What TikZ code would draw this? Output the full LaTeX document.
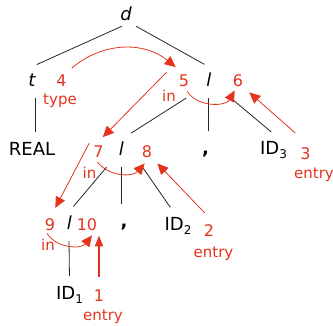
\documentclass[tikz,border=0pt]{standalone}
\usepackage{fontspec}
\setmainfont{DejaVu Sans}
\usetikzlibrary{arrows.meta}

\definecolor{attr}{RGB}{228,52,28}
\newcommand{\idsub}[1]{\raisebox{-4pt}{\fontsize{12}{12}\selectfont #1}}

\tikzset{
  sym/.style={font=\fontsize{18}{18}\selectfont\itshape, text height=13pt, text depth=3pt,
    minimum height=32pt, inner sep=0pt, anchor=base},
  term/.style={sym, font=\fontsize{18}{18}\selectfont},
  num/.style={text=attr, font=\fontsize{16}{16}\selectfont, inner sep=1pt, anchor=base},
  lbl/.style={text=attr, font=\fontsize{15}{15}\selectfont, inner sep=0pt, anchor=base},
  tree/.style={line width=0.8pt, black!85, shorten >=3pt},
  flow/.style={attr, line width=0.8pt, -{Triangle[length=11pt,width=10pt]}},
}

\begin{document}
\begin{tikzpicture}[x=1pt,y=1pt]
\useasboundingbox (0,0) rectangle (333,-326);
% parse tree
\node[sym, minimum height=20pt] (d) at (126,-21) {d};
\node[sym] (t) at (32,-87) {t};
\node[sym] (l1) at (209,-87) {l};
\node[term] (real) at (32,-156) {REAL};
\node[sym] (l2) at (121.5,-156) {l};
\node[term, font=\fontsize{18}{18}\selectfont\bfseries] (c1) at (205.5,-155) {,};
\node[term] (id3) at (273.5,-155) {ID\idsub{3}};
\node[sym] (l3) at (69.5,-230) {l};
\node[term, font=\fontsize{18}{18}\selectfont\bfseries] (c2) at (124,-228) {,};
\node[term] (id2) at (178,-231) {ID\idsub{2}};
\node[term] (id1) at (69.5,-300) {ID\idsub{1}};

\draw[tree] ([xshift=-4pt]d.south) -- ([xshift=2pt]t.north);
\draw[tree] ([xshift=10pt]d.south) -- ([xshift=-2pt]l1.north);
\draw[tree] ([xshift=3pt]t.south) -- ([xshift=3pt]real.north);
\draw[tree] ([xshift=-23pt]l1.south) -- ([xshift=7pt]l2.north);
\draw[tree] ([xshift=-1pt]l1.south) -- ([xshift=2.5pt]c1.north);
\draw[tree] ([xshift=22pt]l1.south) -- (id3.north);
\draw[tree] ([xshift=-15pt]l2.south) -- ([xshift=2pt]l3.north);
\draw[tree] (l2.south) -- ([xshift=-2.5pt]c2.north);
\draw[tree] ([xshift=21pt]l2.south) -- ([xshift=-6pt]id2.north);
\draw[tree] ([xshift=-0.5pt]l3.south) -- (id1.north);

% attribute values
\node[num] (n4) at (61.5,-87) {4};
\node[num] (n5) at (184,-87) {5};
\node[num] (n6) at (238,-87) {6};
\node[num] (n7) at (98.5,-158) {7};
\node[num] (n8) at (147,-158) {8};
\node[num] (n3) at (305.5,-160) {3};
\node[num] (n9) at (50,-231) {9};
\node[num] (n10) at (87,-231) {10};
\node[num] (n2) at (209,-237) {2};
\node[num] (n1) at (99,-302) {1};

\node[lbl] (type) at (60,-104.5) {type};
\node[lbl] (in5) at (169,-102) {in};
\node[lbl] (in7) at (89.5,-179) {in};
\node[lbl] (in9) at (48,-251) {in};
\node[lbl] (entry3) at (314,-178.5) {entry};
\node[lbl] (entry2) at (213.5,-258) {entry};
\node[lbl] (entry1) at (103,-321) {entry};

% dependencies
\draw[flow] ([shift={(4pt,6pt)}]n4.north east) to[bend left=40] ([shift={(-2pt,7pt)}]n5.north west);
\draw[flow] ([shift={(-11pt,2pt)}]n5.north west) -- ([shift={(-2pt,8pt)}]n7.north east);
\draw[flow] ([shift={(-3pt,-3pt)}]n5.south east) to[bend right=60] ([shift={(3pt,-2pt)}]n6.south west);
\draw[flow] ([shift={(-4pt,14pt)}]n3.north west) -- ([shift={(5pt,-4pt)}]n6.south east);
\draw[flow] ([shift={(-3pt,2pt)}]n7.north west) -- ([shift={(-1pt,10pt)}]n9.north east);
\draw[flow] ([shift={(-1pt,-3pt)}]n7.south) to[bend right=50] ([shift={(4pt,-4pt)}]n8.south west);
\draw[flow] ([shift={(2pt,11pt)}]n2.north west) -- ([shift={(4pt,-4pt)}]n8.south east);
\draw[flow] ([shift={(-3pt,-1pt)}]n9.south) to[bend right=55] ([shift={(5pt,-3pt)}]n10.south);
\draw[flow, line width=2pt, shorten <=12pt, shorten >=3pt, -{Triangle[length=11pt,width=8pt]}] (n1.north) -- (n1.north |- n10.south);
\end{tikzpicture}
\end{document}
